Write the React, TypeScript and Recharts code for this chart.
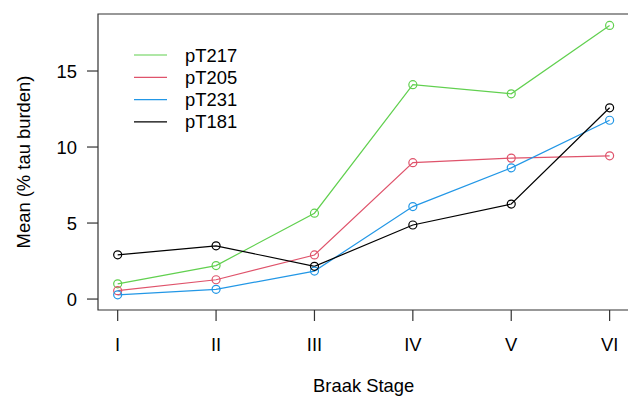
import React from 'react';
import {
  LineChart,
  Line,
  XAxis,
  YAxis,
  ReferenceArea,
} from 'recharts';

// Braak stages on the x axis
const stages = ['I', 'II', 'III', 'IV', 'V', 'VI'];
const stagePos = [1, 2, 3, 4, 5, 6];

// mean % tau burden per stage
const pT217 = [1.0, 2.2, 5.65, 14.1, 13.5, 18.0];
const pT205 = [0.55, 1.27, 2.9, 8.97, 9.27, 9.42];
const pT231 = [0.28, 0.64, 1.84, 6.08, 8.63, 11.76];
const pT181 = [2.91, 3.5, 2.15, 4.87, 6.25, 12.58];

const yTicks = [0, 5, 10, 15];

const data = stagePos.map((x, i) => ({
  x,
  pT217: pT217[i],
  pT205: pT205[i],
  pT231: pT231[i],
  pT181: pT181[i],
}));

const SERIES = [
  { key: 'pT217', color: '#61D04F' },
  { key: 'pT205', color: '#DF536B' },
  { key: 'pT231', color: '#2297E6' },
  { key: 'pT181', color: '#000000' },
];

const FONT = '"Liberation Sans", Arial, Helvetica, sans-serif';
const FS = 18.4;
const AXIS_COL = '#333';
const LW = 1.2;

// R-style legend: line samples only, no markers
const LegendBox = () => (
  <svg width={160} height={100} style={{ position: 'absolute', left: 130, top: 43, overflow: 'visible' }}>
    {SERIES.map((s, i) => {
      const y = 12 + i * 22.3;
      return (
        <g key={s.key}>
          <line x1={4} x2={37} y1={y} y2={y} stroke={s.color} strokeWidth={LW} />
          <text
            x={55}
            y={y}
            dominantBaseline="central"
            fontSize={FS}
            fontFamily={FONT}
            fill="#000"
          >
            {s.key}
          </text>
        </g>
      );
    })}
  </svg>
);

export default function App() {
  return (
    <div style={{ position: 'absolute', left: 0, top: 0, width: 628, height: 396, overflow: 'hidden', background: '#fff' }}>
      <LineChart
        width={640}
        height={396}
        data={data}
        margin={{ top: 14, right: 10.7, bottom: 0, left: 0 }}
        style={{ fontFamily: FONT }}
      >
        <XAxis
          dataKey="x"
          type="number"
          domain={[0.8, 6.2]}
          ticks={stagePos}
          tickFormatter={(v: number) => stages[v - 1] ?? ''}
          height={86}
          axisLine={false}
          tickSize={11}
          tickMargin={17}
          tickLine={{ stroke: AXIS_COL, strokeWidth: LW }}
          tick={{ fontSize: FS, fill: '#000', fontFamily: FONT }}
          label={{
            content: (props: any) => {
              const vb = props.viewBox || {};
              return (
                <text
                  x={vb.x + vb.width / 2}
                  y={391.5}
                  textAnchor="middle"
                  fontSize={FS}
                  fontFamily={FONT}
                  fill="#000"
                >
                  Braak Stage
                </text>
              );
            },
          }}
        />
        <YAxis
          type="number"
          domain={[-0.72, 18.75]}
          ticks={yTicks}
          width={98}
          axisLine={false}
          tickSize={11}
          tickMargin={10}
          tickLine={{ stroke: AXIS_COL, strokeWidth: LW }}
          tick={{ fontSize: FS, fill: '#000', fontFamily: FONT }}
          label={{
            content: (props: any) => {
              const vb = props.viewBox || {};
              const cy = vb.y + vb.height / 2;
              return (
                <text
                  x={23}
                  y={cy}
                  transform={`rotate(-90 23 ${cy})`}
                  textAnchor="middle"
                  dominantBaseline="central"
                  fontSize={FS}
                  fontFamily={FONT}
                  fill="#000"
                >
                  Mean (% tau burden)
                </text>
              );
            },
          }}
        />
        <ReferenceArea
          x1={0.8}
          x2={6.2}
          y1={-0.72}
          y2={18.75}
          fill="none"
          fillOpacity={0}
          stroke={AXIS_COL}
          strokeWidth={LW}
          ifOverflow="visible"
        />
        {SERIES.map((s) => (
          <Line
            key={s.key}
            dataKey={s.key}
            stroke={s.color}
            strokeWidth={LW}
            dot={{ r: 4, stroke: s.color, strokeWidth: LW, fill: 'none' }}
            activeDot={false}
            isAnimationActive={false}
          />
        ))}
      </LineChart>
      <LegendBox />
    </div>
  );
}
